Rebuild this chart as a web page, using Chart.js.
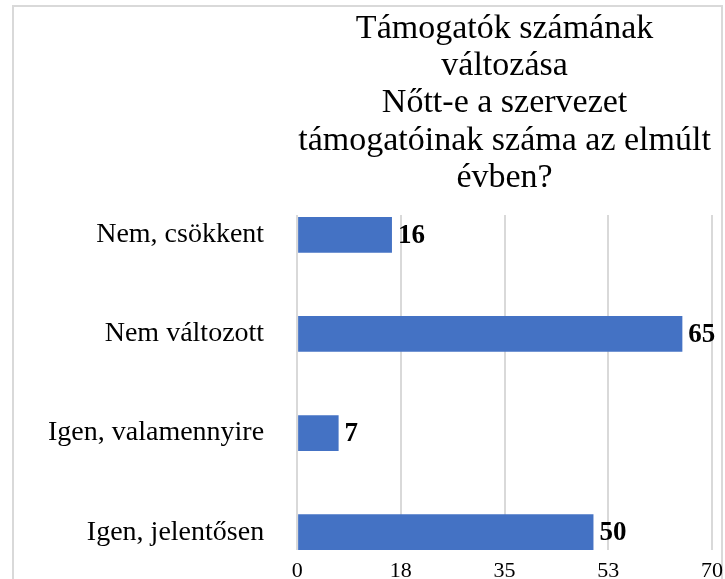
<!DOCTYPE html>
<html>
<head>
<meta charset="utf-8">
<script src="https://cdn.jsdelivr.net/npm/chart.js@4/dist/chart.umd.min.js"></script>
<style>
  html, body { margin: 0; padding: 0; background: #fff; }
  #frame { position: absolute; left: 12px; top: 5px; width: 707px; height: 620px; border: 2px solid #d9d9d9; }
  #chart { position: absolute; left: 0; top: 0; }
</style>
</head>
<body>
<div id="frame"></div>
<canvas id="chart" width="725" height="579"></canvas>
<script>
// data
const categories = ["Nem, csökkent", "Nem változott", "Igen, valamennyire", "Igen, jelentősen"];
const values = [16, 65, 7, 50];
const tickLabels = ["0", "18", "35", "53", "70"];
const titleLines = ["Támogatók számának", "változása", "Nőtt-e a szervezet", "támogatóinak száma az elmúlt", "évben?"];

const serif = "'Liberation Serif', 'Times New Roman', serif";

// bold value next to the end of each bar
const valueLabels = {
  id: "valueLabels",
  afterDatasetsDraw(chart) {
    const ctx = chart.ctx;
    const meta = chart.getDatasetMeta(0);
    ctx.save();
    ctx.font = "bold 27px " + serif;
    ctx.fillStyle = "#000";
    ctx.textAlign = "left";
    ctx.textBaseline = "middle";
    meta.data.forEach((bar, i) => {
      ctx.fillText(String(values[i]), bar.x + 6, bar.y + 1);
    });
    ctx.restore();
  },
};

new Chart(document.getElementById("chart"), {
  type: "bar",
  data: {
    datasets: [
      {
        data: values.map((v, i) => ({ x: v, y: i })),
        backgroundColor: "#4472C4",
        barPercentage: 0.36,
        categoryPercentage: 1,
      },
    ],
  },
  options: {
    indexAxis: "y",
    responsive: false,
    animation: false,
    devicePixelRatio: 1,
    layout: { padding: { left: 15, right: 0, top: 0, bottom: 0 } },
    plugins: {
      legend: { display: false },
      tooltip: { enabled: false },
      title: {
        display: true,
        text: titleLines,
        fullSize: false,
        color: "#000",
        font: { family: serif, size: 34, weight: "normal", lineHeight: 1.1 },
        padding: { top: 10, bottom: 18 },
      },
    },
    scales: {
      x: {
        min: 0,
        max: 70,
        grid: { color: "#d9d9d9", lineWidth: 2, drawTicks: false },
        border: { display: false },
        afterFit: (scale) => {
          scale.height = 29;
          scale.paddingRight = 13;
        },
        ticks: {
          stepSize: 17.5,
          color: "#000",
          padding: 8,
          font: { family: serif, size: 22 },
          callback: (v, i) => tickLabels[i],
        },
      },
      y: {
        type: "linear",
        reverse: true,
        offset: false,
        min: -0.2,
        max: 3.18,
        grid: { display: false, drawTicks: false, offset: false },
        border: { display: false },
        afterBuildTicks: (scale) => {
          scale.ticks = categories.map((c, i) => ({ value: i }));
        },
        afterFit: (scale) => {
          scale.paddingTop = 0;
          scale.paddingBottom = 0;
        },
        ticks: {
          color: "#000",
          padding: 33,
          font: { family: serif, size: 28 },
          callback: (v) => categories[v],
        },
      },
    },
  },
  plugins: [valueLabels],
});
</script>
</body>
</html>
